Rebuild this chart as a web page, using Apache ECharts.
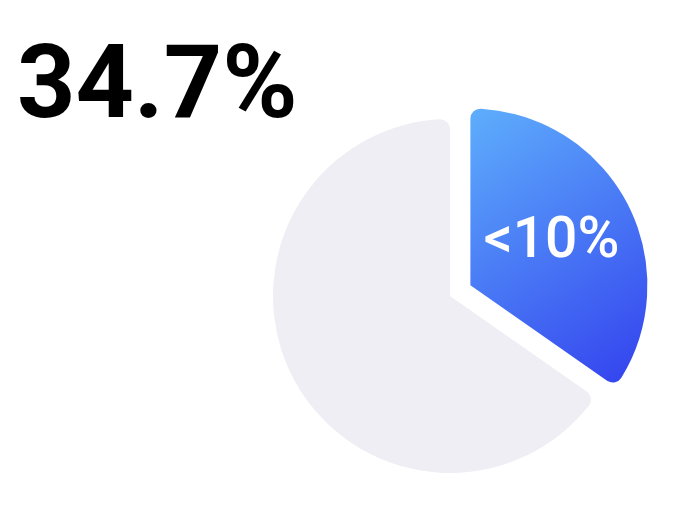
<!DOCTYPE html>
<html>
<head>
<meta charset="utf-8">
<script src="https://cdn.jsdelivr.net/npm/echarts@6/dist/echarts.min.js"></script>
<style>
html,body{margin:0;padding:0;background:#fff;}
#c{width:688px;height:515px;}
</style>
</head>
<body>
<div id="c"></div>
<script>
var headline = '34.7%';
var categories = ['<10%', 'other'];
var values = [34.7, 65.3];
var colorsTop = ['#5eaefc', '#efeef5'];
var colorsBottom = ['#3341ee', '#efeef5'];

var chart = echarts.init(document.getElementById('c'), null, {renderer: 'canvas'});
var data = categories.map(function (c, i) {
  return {
    name: c,
    value: values[i],
    selected: i === 0,
    itemStyle: {
      color: i === 0 ? new echarts.graphic.LinearGradient(0, 0, 1, 1, [
        {offset: 0, color: colorsTop[i]},
        {offset: 1, color: colorsBottom[i]}
      ]) : colorsTop[i]
    },
    label: {show: i === 0}
  };
});
chart.setOption({
  animation: false,
  backgroundColor: '#ffffff',
  title: {
    text: headline,
    left: 17,
    top: 40,
    padding: 0,
    textStyle: {
      fontFamily: 'Roboto',
      fontSize: 102,
      lineHeight: 102,
      fontWeight: 'bold',
      color: '#000000'
    }
  },
  series: [{
    type: 'pie',
    center: [450, 296],
    radius: [0, 177],
    startAngle: 90,
    clockwise: true,
    selectedMode: 'single',
    selectedOffset: 23,
    silent: true,
    itemStyle: {borderRadius: 10},
    label: {
      position: 'inside',
      formatter: '{b}',
      color: '#ffffff',
      fontFamily: 'Roboto',
      fontSize: 57,
      fontWeight: 500
    },
    labelLine: {show: false},
    emphasis: {disabled: true},
    data: data
  }]
});
</script>
</body>
</html>
